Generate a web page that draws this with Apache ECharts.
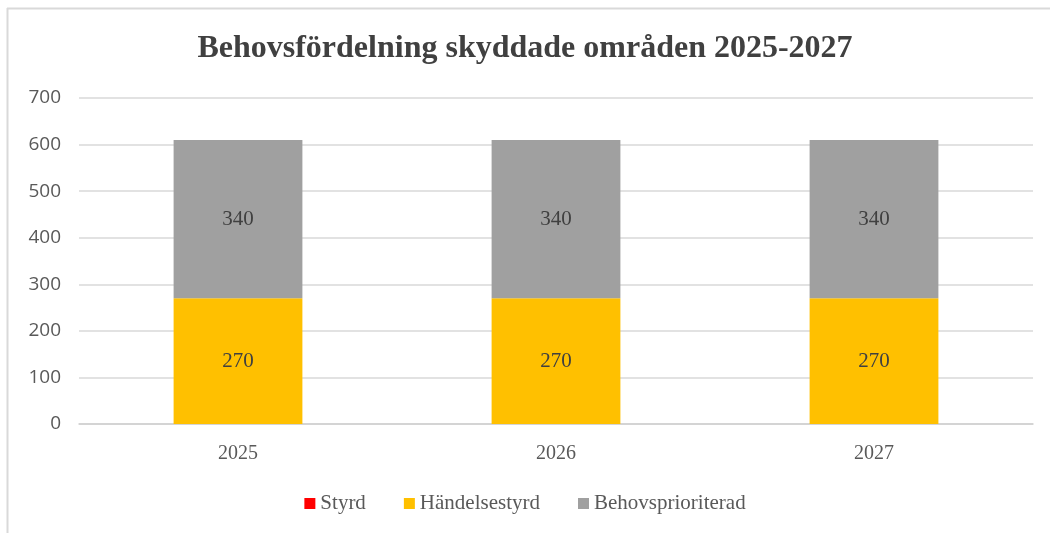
<!DOCTYPE html>
<html>
<head>
<meta charset="utf-8">
<script src="https://cdn.jsdelivr.net/npm/echarts@6.0.0/dist/echarts.min.js"></script>
<style>
  html, body { margin: 0; padding: 0; background: #fff; }
  #chart { width: 1050px; height: 533px; }
</style>
</head>
<body>
<div id="chart"></div>
<script>
const years = ["2025", "2026", "2027"];
const styrd = [0, 0, 0];
const handelsestyrd = [270, 270, 270];
const behovsprioriterad = [340, 340, 340];

const serif = "'Liberation Serif', 'DejaVu Serif', serif";

const chart = echarts.init(document.getElementById("chart"));

function barSeries(name, data, color) {
  return {
    name,
    type: "bar",
    stack: "total",
    barWidth: "40.5%",
    data,
    itemStyle: { color },
    label: {
      show: name !== "Styrd",
      position: "inside",
      color: "#404040",
      fontFamily: serif,
      fontSize: 21
    }
  };
}

chart.setOption({
  animation: false,
  title: {
    text: "Behovsfördelning skyddade områden 2025-2027",
    left: "center",
    top: 28,
    textStyle: { fontFamily: serif, fontSize: 32, fontWeight: "bold", color: "#404040" }
  },
  legend: {
    bottom: 14,
    left: "center",
    itemWidth: 11,
    itemHeight: 11,
    itemGap: 38,
    icon: "rect",
    textStyle: { fontFamily: serif, fontSize: 21, color: "#595959" },
    data: ["Styrd", "Händelsestyrd", "Behovsprioriterad"]
  },
  grid: { left: 79, right: 17, top: 98, bottom: 109 },
  xAxis: {
    type: "category",
    data: years,
    axisTick: { show: false },
    axisLine: { lineStyle: { color: "#d0d0d0", width: 1.5 } },
    axisLabel: { fontFamily: serif, fontSize: 20, color: "#595959", margin: 20 }
  },
  yAxis: {
    type: "value",
    min: 0,
    max: 700,
    interval: 100,
    axisLine: { show: false },
    axisTick: { show: false },
    splitLine: { lineStyle: { color: "#d9d9d9", width: 1.5 } },
    axisLabel: { fontFamily: "'Open Sans', 'DejaVu Sans', sans-serif", fontSize: 19, color: "#595959", margin: 18 }
  },
  graphic: [
    { type: "line", shape: { x1: 7.5, y1: 8, x2: 7.5, y2: 533 }, style: { stroke: "#d9d9d9", lineWidth: 2 } },
    { type: "line", shape: { x1: 7, y1: 8.5, x2: 1050, y2: 8.5 }, style: { stroke: "#d9d9d9", lineWidth: 2 } }
  ],
  series: [
    barSeries("Styrd", styrd, "#ff0000"),
    barSeries("Händelsestyrd", handelsestyrd, "#ffc000"),
    barSeries("Behovsprioriterad", behovsprioriterad, "#a0a0a0")
  ]
});
</script>
</body>
</html>
